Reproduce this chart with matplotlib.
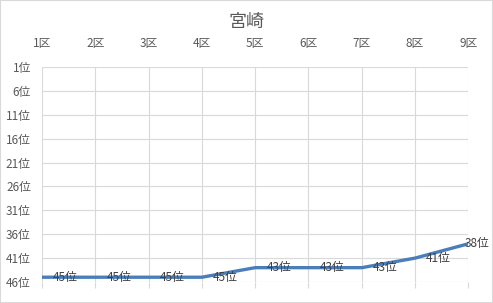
import matplotlib
matplotlib.use("Agg")
import matplotlib.pyplot as plt
from matplotlib.patches import Rectangle

plt.rcParams['font.family'] = ['Noto Sans CJK JP', 'DejaVu Sans']

title = "宮崎"
districts = ["1区", "2区", "3区", "4区", "5区", "6区", "7区", "8区", "9区"]
ranks = [45, 45, 45, 45, 43, 43, 43, 41, 38]
ytick_vals = [1, 6, 11, 16, 21, 26, 31, 36, 41, 46]
ytick_labels = [f"{v}位" for v in ytick_vals]
data_labels = [f"{v}位" for v in ranks]

text_col = "#595959"
grid_col = "#D9D9D9"
line_col = "#4A7EBB"

fig = plt.figure(figsize=(4.93, 3.03), dpi=100)
fig.patches.append(Rectangle((0, 0), 1, 1, transform=fig.transFigure,
                             fill=False, edgecolor="#D9D9D9", linewidth=1.5))
ax = fig.add_axes([0.0852, 0.0693, 0.8648, 0.7097])

x = list(range(len(districts)))
ax.plot(x, ranks, color=line_col, linewidth=2.4, solid_capstyle='butt', zorder=3)

ax.set_xlim(0, len(districts) - 1)
ax.set_ylim(46, 1)
ax.set_xticks(x)
ax.set_xticklabels(districts)
ax.set_yticks(ytick_vals)
ax.set_yticklabels(ytick_labels)

ax.xaxis.set_ticks_position('bottom')
ax.tick_params(axis='x', bottom=True, top=False, labelbottom=False, labeltop=True,
               length=4, width=0.8, color=grid_col, pad=8,
               labelsize=8.5, labelcolor=text_col)
ax.tick_params(axis='y', left=False, length=0, pad=8, labelsize=8.5, labelcolor=text_col)

ax.grid(True, color=grid_col, linewidth=0.8)
ax.set_axisbelow(True)
for s in ax.spines.values():
    s.set_visible(False)

for i, (xi, yi, lab) in enumerate(zip(x, ranks, data_labels)):
    if i == len(x) - 1:
        ax.annotate(lab, (xi, yi), xytext=(-3, 0), textcoords='offset points',
                    ha='left', va='center', fontsize=8.5, color="#404040",
                    annotation_clip=False, zorder=4)
    else:
        ax.annotate(lab, (xi, yi), xytext=(8, 0), textcoords='offset points',
                    ha='left', va='center', fontsize=8.5, color="#404040", zorder=4)

fig.text(0.5, 1 - 22 / 303, title, ha='center', va='center', fontsize=13, color=text_col)

fig.savefig("out.png", dpi=100)
